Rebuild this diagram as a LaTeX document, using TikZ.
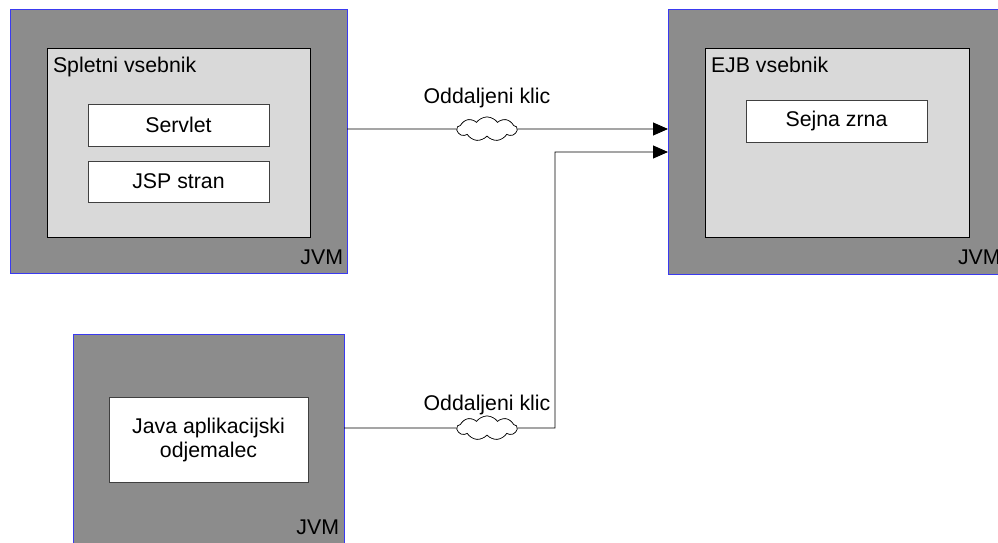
\documentclass[tikz,border=0pt]{standalone}
\usepackage{fontspec}
\setmainfont{Liberation Sans}
\usetikzlibrary{shapes.symbols,arrows.meta}
\definecolor{jvmgray}{HTML}{8C8C8C}
\definecolor{contgray}{HTML}{D9D9D9}
\definecolor{jvmblue}{HTML}{3A3AF0}
\begin{document}
\begin{tikzpicture}[x=1pt,y=-1pt,
  every node/.style={font=\fontsize{21.3}{24}\selectfont, inner sep=0pt, outer sep=0pt},
  jvmbox/.style={draw=jvmblue, fill=jvmgray, line width=1pt, rectangle, anchor=north west},
  contbox/.style={draw=black, fill=contgray, line width=0.8pt, rectangle, anchor=north west},
  compbox/.style={draw=black!75, fill=white, line width=0.8pt, rectangle, anchor=north west},
  net/.style={draw=black, fill=white, cloud, cloud puffs=9, cloud puff arc=110, aspect=2.6, minimum width=60pt, minimum height=24pt, line width=0.6pt},
  conn/.style={draw=black, line width=0.9pt},
  arr/.style={conn, -{Triangle[length=15pt,width=13pt]}}
]
\clip (0,0) rectangle (998,543);
\fill[white] (0,0) rectangle (998,543);

% top-left JVM
\node[jvmbox, minimum width=337pt, minimum height=263pt] (jvm1) at (10,10) {};
\node[contbox, minimum width=263pt, minimum height=189pt] (web) at (47,48) {};
\node[anchor=base west] (weblbl) at (53,73) {Spletni vsebnik};
\node[compbox, minimum width=181pt, minimum height=42pt] (servlet) at (88,104) {};
\node (servlett) at (servlet.center) {Servlet};
\node[compbox, minimum width=181pt, minimum height=41pt] (jsp) at (88,161) {};
\node (jspt) at (jsp.center) {JSP stran};
\node[anchor=base east] (jvm1lbl) at (343,264) {JVM};

% top-right JVM
\node[jvmbox, minimum width=345pt, minimum height=264pt] (jvm2) at (668,10) {};
\node[contbox, minimum width=264pt, minimum height=189pt] (ejb) at (705,48) {};
\node[anchor=base west] (ejblbl) at (711,73) {EJB vsebnik};
\node[compbox, minimum width=181pt, minimum height=42pt] (sb) at (746,100) {};
\node (sbt) at (sb.center) {Sejna zrna};
\node[anchor=base west] (jvm2lbl) at (958,264) {JVM};

% bottom JVM
\node[jvmbox, minimum width=271pt, minimum height=220pt] (jvm3) at (73,334) {};
\node[compbox, minimum width=199pt, minimum height=85pt] (app) at (109,397) {};
\node[align=center] (appt) at (app.center) {Java aplikacijski\\odjemalec};
\node[anchor=base east] (jvm3lbl) at (339,534) {JVM};

% connectors
\node[net] (cloud1) at (487,129) {};
\node[anchor=base] (lbl1) at (487,103) {Oddaljeni klic};
\node[net] (cloud2) at (487,428) {};
\node[anchor=base] (lbl2) at (487,410) {Oddaljeni klic};
\coordinate (bend) at (555,152);

\draw[conn] (cloud1 -| jvm1.east) -- (cloud1.west);
\draw[arr] (cloud1.east) -- (cloud1 -| jvm2.west);
\draw[conn] (cloud2 -| jvm3.east) -- (cloud2.west);
\draw[arr] (cloud2.east) -- (cloud2 -| bend) -- (bend) -- (bend -| jvm2.west);

\node[net] at (cloud1) {};
\node[net] at (cloud2) {};
\end{tikzpicture}
\end{document}
